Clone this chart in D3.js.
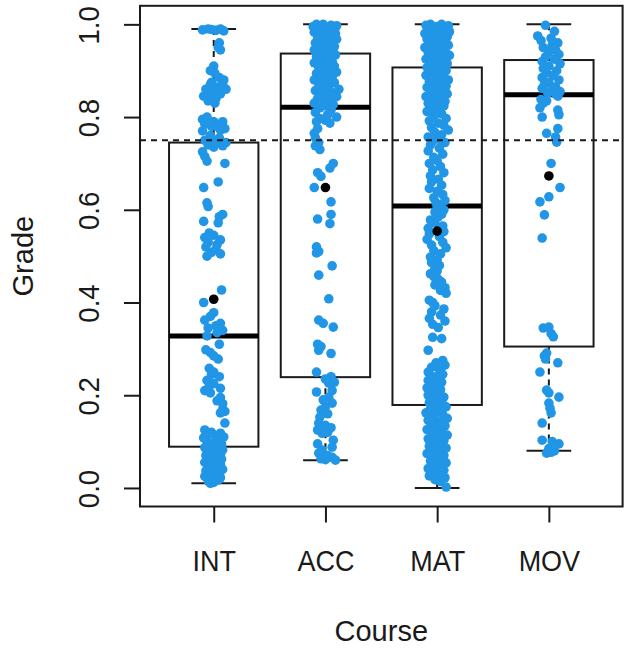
<!DOCTYPE html>
<html><head><meta charset="utf-8">
<script src="https://cdn.jsdelivr.net/npm/d3@7"></script>
<style>body{margin:0;background:#fff}svg{display:block}text{font-family:"Liberation Sans",Arial,sans-serif;fill:#1a1a1a}</style>
</head><body><svg id="c" width="629" height="648"></svg>
<script>
const categories = ["INT","ACC","MAT","MOV"];
const yTicks = [0,0.2,0.4,0.6,0.8,1.0];
const lowerWhisker = [0.01, 0.06, 0.0, 0.08];
const q1 = [0.089, 0.239, 0.179, 0.305];
const median = [0.328, 0.821, 0.608, 0.848];
const q3 = [0.745, 0.937, 0.907, 0.923];
const upperWhisker = [0.99, 1.0, 1.0, 1.0];
const means = [0.407, 0.648, 0.554, 0.673];
const threshold = 0.75;
// [grade, jitter (category units)]
const pointsINT = [[0.988,-0.10],[0.99,-0.05],[0.987,0.02],[0.99,0.06],[0.986,0.09],[0.989,-0.02],
[0.96,0.05],[0.95,0.04],[0.945,0.06],[0.91,0.0],[0.90,-0.03],[0.895,0.01],
[0.885,0.05],[0.88,0.09],[0.875,-0.02],[0.87,0.08],[0.865,0.03],[0.86,-0.07],[0.855,0.0],[0.85,0.06],[0.848,-0.04],[0.845,-0.09],[0.84,0.02],[0.835,-0.05],[0.83,0.01],[0.86,0.11],[0.87,-0.03],
[0.80,-0.06],[0.795,-0.1],[0.79,0.0],[0.785,-0.08],[0.78,0.03],[0.775,0.1],[0.77,-0.1],[0.772,0.06],[0.78,-0.02],[0.79,0.08],
[0.76,-0.03],[0.755,0.05],[0.75,-0.08],[0.748,0.02],[0.745,0.11],[0.74,-0.05],[0.738,0.08],[0.735,0.0],
[0.725,-0.1],[0.715,-0.08],[0.705,-0.06],[0.70,0.1],[0.66,0.04],[0.648,-0.09],[0.615,-0.06],[0.607,-0.05],
[0.59,0.08],[0.585,0.05],[0.575,-0.09],[0.572,0.04],
[0.55,-0.04],[0.545,0.0],[0.54,-0.08],[0.535,0.06],[0.53,-0.05],[0.525,0.03],[0.52,-0.07],[0.515,0.02],
[0.508,-0.02],[0.505,0.06],[0.50,-0.06],[0.427,0.07],[0.40,-0.09],
[0.378,0.0],[0.37,-0.03],[0.362,-0.08],[0.355,0.06],[0.35,0.02],[0.345,-0.05],[0.34,0.08],[0.335,0.03],[0.328,-0.06],
[0.31,0.05],[0.298,-0.07],[0.292,-0.03],[0.285,0.0],[0.278,0.04],
[0.258,-0.04],[0.25,0.0],[0.245,-0.02],[0.24,0.05],
[0.232,-0.06],[0.225,0.0],[0.22,-0.04],[0.215,0.06],[0.21,-0.08],[0.205,-0.03],
[0.195,0.06],[0.188,0.03],[0.182,0.08],[0.17,0.08],[0.165,0.1],[0.162,0.06],[0.14,0.1],
[0.125,-0.08],[0.12,-0.02],[0.118,0.06],[0.115,-0.05],[0.112,0.02],[0.11,0.09],[0.108,-0.09],[0.106,0.04],
[0.10,-0.06],[0.098,0.0],[0.095,0.07],[0.092,-0.03],[0.09,0.04],[0.087,-0.08],[0.085,0.01],[0.082,0.08],[0.08,-0.05],[0.077,0.03],[0.075,-0.01],[0.072,0.06],[0.07,-0.07],[0.067,0.02],[0.065,-0.04],[0.062,0.07],[0.06,-0.01],[0.057,0.04],[0.055,-0.08],[0.052,0.0],[0.05,0.06],[0.047,-0.05],[0.045,0.03],[0.042,-0.02],[0.04,0.08],[0.037,-0.07],[0.035,0.01],[0.032,0.05],[0.03,-0.04],[0.027,0.02],[0.025,-0.08],[0.022,0.06],[0.02,-0.02],[0.017,0.04],[0.015,-0.05],[0.012,0.0],[0.01,-0.03]];
const pointsACC = [[1.0,-0.08],[1.0,-0.02],[0.998,0.05],[0.997,0.1],[0.995,-0.11],[0.993,0.0],[0.99,0.07],[0.988,-0.05],[0.985,0.03],[0.983,-0.1],[0.98,0.09],[0.978,-0.02],[0.975,0.05],[0.972,-0.07],[0.97,0.01],[0.968,0.1],[0.965,-0.04],[0.962,0.06],[0.96,-0.09],[0.957,0.02],[0.955,-0.01],[0.952,0.08],[0.95,-0.06],[0.947,0.04],[0.945,-0.1],[0.942,0.0],[0.94,0.07],
[0.937,-0.03],[0.934,0.09],[0.93,-0.08],[0.927,0.03],[0.924,-0.04],[0.92,0.06],[0.917,-0.1],[0.914,0.01],[0.91,0.08],[0.907,-0.06],[0.904,0.04],[0.9,-0.02],[0.897,0.1],[0.894,-0.08],[0.89,0.02],[0.887,-0.04],[0.884,0.06],[0.88,-0.1],[0.877,0.0],[0.874,0.08],[0.87,-0.06],[0.867,0.03],[0.864,-0.02],[0.86,0.12],[0.857,-0.09],[0.854,0.05],[0.85,-0.04],[0.847,0.01],[0.844,0.1],[0.84,-0.07],[0.837,0.04],[0.834,-0.01],[0.83,-0.1],[0.827,0.07],[0.824,0.0],[0.82,-0.05],
[0.815,0.05],[0.81,-0.09],[0.805,0.02],[0.80,0.1],[0.797,-0.05],[0.793,0.0],[0.79,-0.08],[0.787,0.04],
[0.775,-0.07],[0.765,-0.1],[0.755,-0.09],[0.745,-0.06],[0.738,-0.09],[0.73,-0.05],
[0.70,0.07],[0.69,0.04],[0.68,-0.07],[0.672,-0.04],[0.648,-0.1],[0.617,0.05],[0.59,0.05],[0.58,-0.07],[0.57,0.04],[0.52,-0.08],[0.51,-0.06],[0.507,-0.08],[0.479,0.06],[0.459,-0.06],[0.408,0.03],[0.362,-0.06],[0.355,-0.02],[0.347,0.07],[0.31,-0.07],[0.305,-0.04],[0.297,-0.06],[0.29,0.05],[0.25,-0.08],[0.24,0.05],[0.235,0.0],[0.228,0.08],[0.226,0.03],[0.21,0.06],[0.207,-0.08],[0.196,0.03],[0.19,-0.02],[0.183,0.06],[0.175,0.0],[0.168,-0.04],[0.16,0.02],[0.153,-0.05],[0.14,-0.06],[0.135,0.0],[0.13,0.05],[0.125,-0.07],[0.12,0.02],[0.118,-0.03],[0.103,0.07],[0.095,-0.07],[0.088,0.06],[0.082,-0.03],[0.075,-0.06],[0.07,0.02],[0.066,0.06],[0.063,-0.04],[0.061,0.0],[0.06,0.09]];
const pointsMAT = [[1.0,-0.06],[1.0,0.04],[0.998,-0.1],[0.997,0.1],[0.995,0.0],[0.993,-0.04],[0.99,0.07],[0.988,-0.08],[0.986,0.02],[0.984,0.11],[0.982,-0.02],[0.98,-0.11],[0.977,0.05],[0.975,-0.05],[0.973,0.09],[0.97,0.0],[0.968,-0.09],[0.965,0.06],[0.963,-0.03],[0.96,0.03],[0.958,-0.07],[0.955,0.1],[0.953,0.01],[0.95,-0.11],[0.948,0.06],[0.945,-0.04],[0.943,0.03],[0.94,-0.08],[0.938,0.08],[0.935,-0.01],[0.933,0.11],[0.93,-0.06],[0.928,0.04],[0.925,-0.1],[0.923,0.0],[0.92,0.07],[0.918,-0.05],[0.915,0.09],[0.913,-0.02],[0.91,0.05],
[0.907,-0.09],[0.904,0.02],[0.9,0.08],[0.897,-0.05],[0.894,0.0],[0.89,-0.1],[0.887,0.06],[0.884,-0.02],[0.88,0.1],[0.877,-0.07],[0.874,0.03],[0.87,-0.03],[0.867,0.08],[0.864,-0.09],[0.86,0.01],[0.857,0.05],[0.854,-0.06],[0.85,0.09],[0.847,-0.01],[0.844,-0.1],[0.84,0.04],[0.837,-0.04],[0.834,0.07],[0.83,-0.08],[0.827,0.02],[0.824,0.06],[0.82,-0.05],[0.817,0.0],
[0.812,-0.09],[0.807,0.04],[0.802,-0.03],[0.797,0.08],[0.792,-0.07],[0.787,0.01],[0.782,0.06],[0.777,-0.05],[0.772,0.1],[0.767,-0.02],[0.762,0.04],[0.757,-0.08],[0.752,0.02],[0.748,-0.04],[0.745,0.07],
[0.74,-0.06],[0.733,0.02],[0.727,-0.08],[0.72,0.05],[0.713,-0.03],[0.706,0.0],[0.70,-0.07],[0.693,0.03],[0.686,-0.04],[0.68,0.06],[0.673,-0.06],[0.666,0.01],[0.66,-0.05],[0.653,0.04],[0.646,-0.07],[0.64,0.0],[0.633,0.05],[0.626,-0.03],[0.62,0.07],[0.615,-0.01],
[0.61,0.03],[0.605,0.0],[0.60,0.06],[0.595,-0.02],[0.59,0.04],[0.585,0.01],
[0.578,-0.06],[0.572,-0.02],[0.565,0.05],[0.56,-0.08],[0.553,0.06],[0.548,-0.07],[0.542,0.02],[0.536,-0.09],[0.53,0.05],[0.524,-0.05],[0.518,0.08],[0.512,-0.03],[0.505,0.03],[0.498,-0.06],[0.492,0.0],
[0.486,-0.05],[0.48,0.02],[0.474,-0.02],[0.468,0.0],[0.462,-0.06],[0.456,-0.03],[0.45,0.01],[0.444,0.04],[0.438,-0.02],[0.432,0.07],[0.426,0.03],[0.42,0.08],
[0.405,-0.07],[0.4,-0.04],[0.393,-0.02],[0.386,0.06],[0.38,-0.05],[0.373,0.03],[0.366,-0.07],[0.36,0.07],[0.353,-0.04],[0.346,0.01],
[0.325,-0.04],[0.322,0.04],[0.297,-0.08],
[0.275,0.05],[0.27,-0.01],[0.265,0.07],[0.26,-0.05],[0.255,0.02],[0.25,-0.08],[0.245,0.05],[0.24,-0.03],[0.236,0.0],[0.232,-0.08],[0.228,0.04],[0.224,-0.05],[0.22,0.0],[0.216,-0.09],[0.212,0.03],[0.208,-0.04],[0.204,0.0],[0.2,-0.08],[0.196,0.06],[0.192,-0.02],[0.188,0.02],[0.184,-0.07],[0.18,0.05],[0.177,-0.03],[0.175,0.08],
[0.17,-0.06],[0.166,0.01],[0.162,-0.1],[0.158,0.05],[0.154,-0.03],[0.15,0.09],[0.146,-0.08],[0.142,0.02],[0.138,-0.05],[0.134,0.07],[0.13,-0.01],[0.126,-0.09],[0.122,0.04],[0.118,-0.04],[0.114,0.09],[0.11,0.0],[0.106,-0.08],[0.102,0.06],[0.098,-0.02],[0.094,0.03],[0.09,-0.07],[0.086,0.08],[0.082,-0.04],[0.078,0.01],[0.074,-0.09],[0.07,0.06],[0.066,-0.02],[0.062,0.03],[0.058,-0.06],[0.054,0.08],[0.05,-0.03],[0.046,0.02],[0.042,-0.08],[0.038,0.06],[0.034,-0.04],[0.03,0.0],[0.026,-0.07],[0.022,0.07],[0.018,-0.02],[0.014,0.03],[0.002,0.08]];
const pointsMOV = [[0.998,-0.03],[0.985,0.05],[0.975,-0.1],[0.97,0.02],[0.965,-0.07],[0.96,0.08],[0.955,0.03],[0.95,-0.05],[0.945,0.06],[0.94,0.0],[0.935,0.09],[0.93,-0.03],[0.925,0.05],[0.92,-0.06],[0.915,0.1],[0.91,0.0],[0.905,-0.05],[0.9,0.07],[0.895,-0.02],[0.89,0.04],[0.885,-0.06],[0.88,0.09],[0.875,0.0],[0.87,-0.04],[0.865,0.06],[0.862,-0.06],[0.858,0.03],[0.855,0.1],[0.852,-0.01],[0.85,0.06],[0.845,0.08],[0.838,-0.07],[0.835,-0.02],[0.83,-0.05],[0.82,-0.08],[0.815,0.08],[0.805,0.09],[0.80,-0.06],[0.775,0.08],[0.765,-0.02],[0.757,0.06],[0.746,0.07],[0.70,0.02],[0.648,0.1],[0.628,0.0],[0.617,-0.08],[0.589,-0.04],[0.539,-0.06],
[0.347,0.0],[0.345,-0.05],[0.333,0.02],[0.326,0.04],[0.291,-0.02],[0.285,-0.04],[0.278,-0.03],[0.27,0.08],[0.25,-0.08],[0.211,-0.02],[0.205,0.0],[0.196,0.09],[0.183,0.0],[0.172,0.01],[0.162,0.02],[0.14,-0.06],[0.103,-0.06],[0.1,0.03],[0.095,0.09],[0.085,0.0],[0.08,0.05],[0.077,0.02],[0.075,-0.02]];
const pointSets = [pointsINT, pointsACC, pointsMAT, pointsMOV];

const svg = d3.select("#c");
const L = 140, R = 622.6, T = 5.8, B = 506.5;
const x = d3.scaleLinear().domain([0.34, 4.66]).range([L, R]);
const y = d3.scaleLinear().domain([-0.04, 1.04]).range([B, T]);
const ink = "#1a1a1a";
const blue = "#2196E6";
const fs = 30;

// boxes
const g = svg.append("g");
categories.forEach((c, i) => {
  const cx = x(i + 1), hw = x(1.4) - x(1), sw = x(1.2) - x(1);
  g.append("line").attr("x1", cx).attr("x2", cx).attr("y1", y(upperWhisker[i])).attr("y2", y(q3[i]))
    .attr("stroke", ink).attr("stroke-width", 2).attr("stroke-dasharray", "6,5");
  g.append("line").attr("x1", cx).attr("x2", cx).attr("y1", y(q1[i])).attr("y2", y(lowerWhisker[i]))
    .attr("stroke", ink).attr("stroke-width", 2).attr("stroke-dasharray", "6,5");
  [upperWhisker[i], lowerWhisker[i]].forEach(v => g.append("line").attr("x1", cx - sw).attr("x2", cx + sw)
    .attr("y1", y(v)).attr("y2", y(v)).attr("stroke", ink).attr("stroke-width", 2));
  g.append("rect").attr("x", cx - hw).attr("width", 2 * hw).attr("y", y(q3[i])).attr("height", y(q1[i]) - y(q3[i]))
    .attr("fill", "none").attr("stroke", ink).attr("stroke-width", 2);
  g.append("line").attr("x1", cx - hw).attr("x2", cx + hw).attr("y1", y(median[i])).attr("y2", y(median[i]))
    .attr("stroke", "#000").attr("stroke-width", 5);
});

// points
pointSets.forEach((pts, i) => {
  svg.append("g").selectAll("circle").data(pts).join("circle")
    .attr("cx", d => x(i + 1 + d[1])).attr("cy", d => y(d[0])).attr("r", 4.8).attr("fill", blue);
});

// means
svg.append("g").selectAll("circle").data(means).join("circle")
  .attr("cx", (d, i) => x(i + 1)).attr("cy", d => y(d)).attr("r", 4.8).attr("fill", "#000");

// threshold line
svg.append("line").attr("x1", L).attr("x2", R).attr("y1", y(threshold)).attr("y2", y(threshold))
  .attr("stroke", ink).attr("stroke-width", 2).attr("stroke-dasharray", "6,5");

// frame
svg.append("rect").attr("x", L).attr("y", T).attr("width", R - L).attr("height", B - T)
  .attr("fill", "none").attr("stroke", ink).attr("stroke-width", 2);

// y axis
const ya = svg.append("g").attr("transform", `translate(${L},0)`)
  .call(d3.axisLeft(y).tickValues(yTicks).tickSize(16).tickSizeOuter(0).tickFormat(d3.format(".1f")));
ya.select(".domain").remove();
ya.selectAll("line").attr("stroke", ink).attr("stroke-width", 2);
ya.selectAll("text").attr("font-size", fs).attr("fill", ink).attr("text-anchor", "middle")
  .attr("dy", null).attr("x", null)
  .attr("transform", `translate(${99 - L},0.5) rotate(-90) scale(0.92,1)`);

// x axis
const xa = svg.append("g").attr("transform", `translate(0,${B})`)
  .call(d3.axisBottom(x).tickValues([1, 2, 3, 4]).tickSize(16).tickSizeOuter(0).tickFormat((d, i) => categories[i]));
xa.select(".domain").remove();
xa.selectAll("line").attr("stroke", ink).attr("stroke-width", 2);
xa.selectAll("text").attr("font-size", fs).attr("fill", ink).attr("dy", null).attr("y", null)
  .attr("transform", `translate(0,${571 - B}) scale(0.9,1)`);

// titles
svg.append("text").attr("x", (L + R) / 2).attr("y", 641).attr("text-anchor", "middle").attr("font-size", 29).text("Course");
svg.append("text").attr("transform", `translate(33,${(T + B) / 2}) rotate(-90)`).attr("text-anchor", "middle").attr("font-size", 29).text("Grade");
</script></body></html>
